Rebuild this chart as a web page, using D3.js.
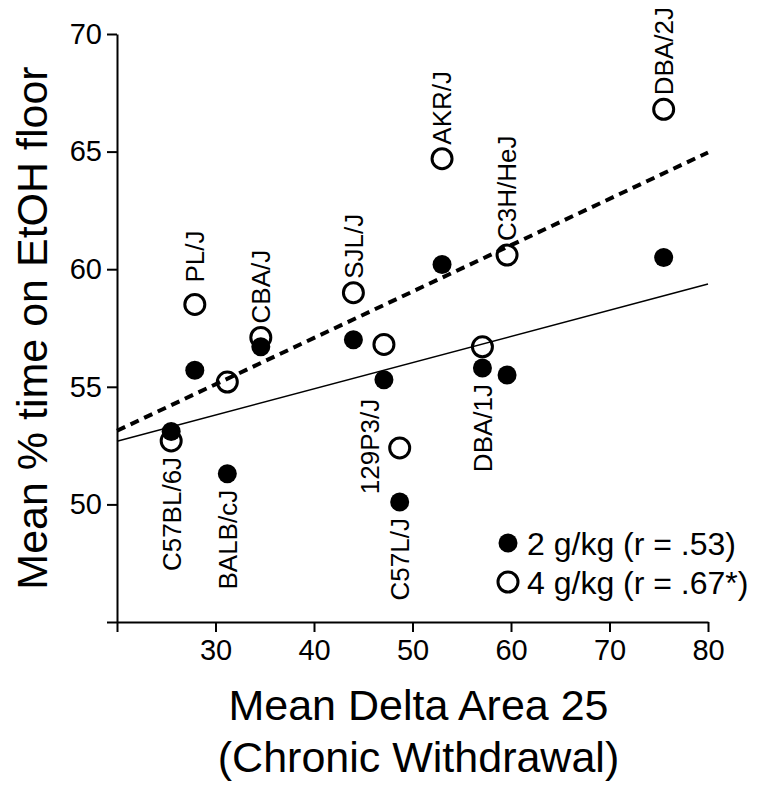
<!DOCTYPE html>
<html>
<head>
<meta charset="utf-8">
<script src="https://cdn.jsdelivr.net/npm/d3@7"></script>
<style>
  body { margin: 0; background: #fff; }
  svg text { font-family: "Liberation Sans", Arial, Helvetica, sans-serif; fill: #000; }
</style>
</head>
<body>
<svg id="chart" width="762" height="790"></svg>
<script>
// Strain means
const strains = ["C57BL/6J", "PL/J", "BALB/cJ", "CBA/J", "SJL/J", "129P3/J", "C57L/J", "AKR/J", "DBA/1J", "C3H/HeJ", "DBA/2J"];
const deltaArea = [25.5, 27.9, 31.2, 34.6, 44.0, 47.1, 48.7, 53.0, 57.1, 59.6, 75.5];
const floor2g = [53.1, 55.7, 51.3, 56.7, 57.0, 55.3, 50.1, 60.2, 55.8, 55.5, 60.5];
const floor4g = [52.7, 58.5, 55.2, 57.1, 59.0, 56.8, 52.4, 64.7, 56.7, 60.6, 66.8];
// where each strain name sits relative to its points
const labelSide = ["below", "above", "below", "above", "above", "left", "below", "above", "below", "above", "above"];

const xTicks = [20, 30, 40, 50, 60, 70, 80];
const yTicks = [45, 50, 55, 60, 65, 70];
const legendLabels = ["2 g/kg (r = .53)", "4 g/kg (r = .67*)"];

const margin = { top: 34, right: 54, bottom: 168, left: 117 };
const width = 762 - margin.left - margin.right;
const height = 790 - margin.top - margin.bottom;

const x = d3.scaleLinear().domain([20, 80]).range([0, width]);
const y = d3.scaleLinear().domain([45, 70]).range([height, 0]);

const svg = d3.select("#chart")
  .append("g")
  .attr("transform", `translate(${margin.left}, ${margin.top})`);

// axes
const xAxis = svg.append("g")
  .attr("transform", `translate(0, ${height})`)
  .call(d3.axisBottom(x).tickValues(xTicks).tickSize(10).tickSizeOuter(0).tickPadding(7)
    .tickFormat(d => d === 20 ? "" : d));
const yAxis = svg.append("g")
  .call(d3.axisLeft(y).tickValues(yTicks).tickSize(10).tickSizeOuter(0).tickPadding(5)
    .tickFormat(d => d === 45 ? "" : d));

[xAxis, yAxis].forEach(a => {
  a.selectAll("path, line").attr("stroke", "#000").attr("stroke-width", 2);
  a.selectAll("text").style("font-size", "29px").attr("fill", "#000");
});

// axis titles
svg.append("text")
  .attr("transform", `translate(${-85}, ${height / 2}) rotate(-90)`)
  .attr("text-anchor", "middle")
  .attr("dy", "0.35em")
  .style("font-size", "43px")
  .text("Mean % time on EtOH floor");

svg.append("text")
  .attr("x", width / 2 + 6)
  .attr("y", 686)
  .attr("text-anchor", "middle")
  .style("font-size", "43px")
  .text("Mean Delta Area 25");
svg.append("text")
  .attr("x", width / 2 + 6)
  .attr("y", 738)
  .attr("text-anchor", "middle")
  .style("font-size", "43px")
  .text("(Chronic Withdrawal)");

// least-squares fit for each dose
const fit = (ys) => {
  const mx = d3.mean(deltaArea), my = d3.mean(ys);
  const sxy = d3.sum(deltaArea, (v, i) => (v - mx) * (ys[i] - my));
  const sxx = d3.sum(deltaArea, v => (v - mx) * (v - mx));
  const b = sxy / sxx;
  return xv => my + b * (xv - mx);
};
const fit2 = fit(floor2g);
const fit4 = fit(floor4g);

const points = strains.map((s, i) => ({
  strain: s, dx: deltaArea[i], y2: floor2g[i], y4: floor4g[i], side: labelSide[i]
}));

// open circles first, filled on top
svg.selectAll(".open")
  .data(points)
  .enter()
  .append("circle")
  .attr("class", "open")
  .attr("cx", d => x(d.dx))
  .attr("cy", d => y(d.y4))
  .attr("r", 10)
  .attr("fill", "#fff")
  .attr("stroke", "#000")
  .attr("stroke-width", 3);

svg.selectAll(".filled")
  .data(points)
  .enter()
  .append("circle")
  .attr("class", "filled")
  .attr("cx", d => x(d.dx))
  .attr("cy", d => y(d.y2))
  .attr("r", 9.5)
  .attr("fill", "#000");

// regression lines
svg.append("line")
  .attr("x1", x(20)).attr("y1", y(fit2(20)))
  .attr("x2", x(80)).attr("y2", y(fit2(80)))
  .attr("stroke", "#000")
  .attr("stroke-width", 1.6);

svg.append("line")
  .attr("x1", x(20)).attr("y1", y(fit4(20)))
  .attr("x2", x(80)).attr("y2", y(fit4(80)))
  .attr("stroke", "#000")
  .attr("stroke-width", 4)
  .attr("stroke-dasharray", "9,6");

// strain names, rotated
svg.selectAll(".label")
  .data(points)
  .enter()
  .append("text")
  .attr("class", "label")
  .attr("transform", d => {
    const top = Math.min(y(d.y2), y(d.y4));
    const bottom = Math.max(y(d.y2), y(d.y4));
    if (d.side === "above") {
      const gap = d.strain === "PL/J" ? 22 : 14;
      return `translate(${x(d.dx)}, ${top - gap}) rotate(-90)`;
    }
    if (d.side === "left") {
      return `translate(${x(d.dx) - 14}, ${y(d.y2) + 19}) rotate(-90)`;
    }
    return `translate(${x(d.dx)}, ${bottom + 16}) rotate(-90)`;
  })
  .attr("text-anchor", d => d.side === "above" ? "start" : "end")
  .attr("dy", "0.36em")
  .style("font-size", "26px")
  .text(d => d.strain);

// legend
const legend = svg.append("g").attr("transform", `translate(${391}, ${509})`);
legendLabels.forEach((lab, i) => {
  const row = legend.append("g").attr("transform", `translate(0, ${i * 39})`);
  row.append("circle")
    .attr("r", i === 0 ? 9.5 : 10)
    .attr("fill", i === 0 ? "#000" : "#fff")
    .attr("stroke", i === 0 ? "none" : "#000")
    .attr("stroke-width", 3);
  row.append("text")
    .attr("x", 19)
    .attr("dy", "0.36em")
    .style("font-size", "32px")
    .text(lab);
});
</script>
</body>
</html>
